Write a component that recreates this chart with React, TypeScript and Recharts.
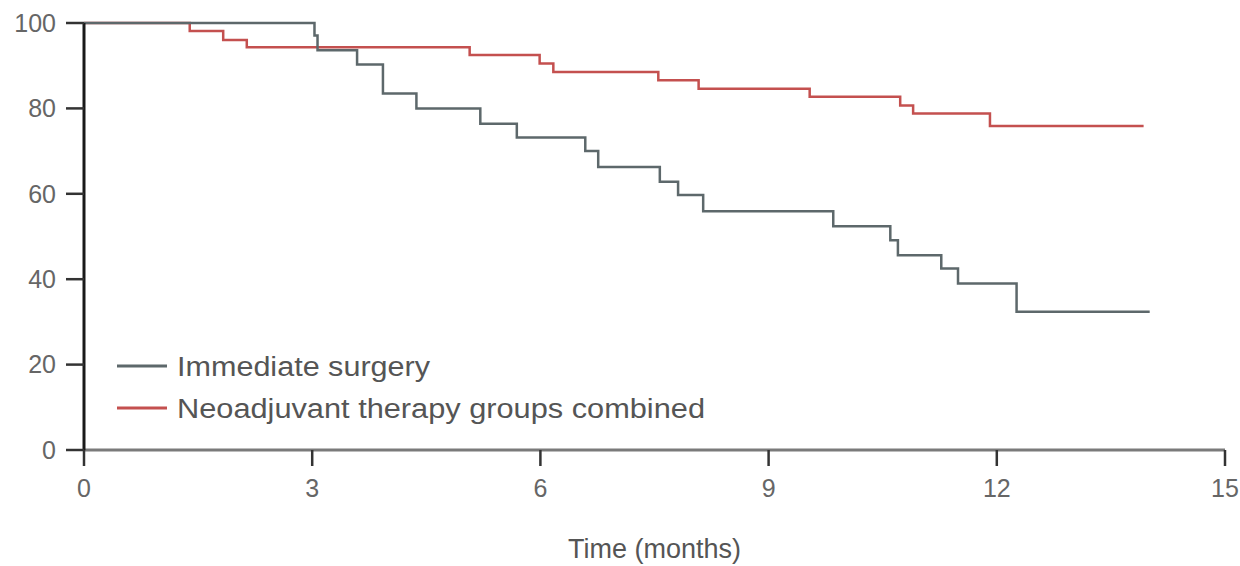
import React from 'react';
import { LineChart, Line, XAxis, YAxis, Legend } from 'recharts';

// Kaplan-Meier step data
const immediateTimes = [0, 3.03, 3.07, 3.59, 3.93, 4.37, 5.21, 5.69, 6.59, 6.76, 7.57, 7.81, 8.14, 9.85, 10.6, 10.7, 11.27, 11.49, 12.26, 14.01];
const immediateSurvival = [100, 97.1, 93.6, 90.3, 83.5, 80.0, 76.4, 73.2, 70.0, 66.3, 62.8, 59.7, 55.9, 52.4, 49.1, 45.6, 42.5, 39.0, 32.4, 32.4];

const neoTimes = [0, 1.39, 1.83, 2.14, 5.07, 5.99, 6.17, 7.55, 8.08, 9.54, 10.73, 10.9, 11.91, 13.93];
const neoSurvival = [100, 98.1, 96.0, 94.3, 92.5, 90.5, 88.5, 86.6, 84.6, 82.7, 80.7, 78.8, 75.9, 75.9];

const xTicks = [0, 3, 6, 9, 12, 15];
const yTicks = [0, 20, 40, 60, 80, 100];
const seriesNames = ['Immediate surgery', 'Neoadjuvant therapy groups combined'];
const xLabel = 'Time (months)';

const immediateData = immediateTimes.map((t, i) => ({ t, s: immediateSurvival[i] }));
const neoData = neoTimes.map((t, i) => ({ t, s: neoSurvival[i] }));

const GRAY = '#5d686b';
const RED = '#c4504f';
const FONT = '"Liberation Sans", Arial, sans-serif';

function LegendContent() {
  return (
    <svg width={640} height={90} style={{ display: 'block' }}>
      <line x1={7} x2={57} y1={21} y2={21} stroke={GRAY} strokeWidth={3} />
      <text x={67} y={22} dominantBaseline="central" textLength={253} lengthAdjust="spacingAndGlyphs"
        fontFamily={FONT} fontSize={27} fill="#555">{seriesNames[0]}</text>
      <line x1={7} x2={57} y1={63} y2={63} stroke={RED} strokeWidth={3} />
      <text x={67} y={64} dominantBaseline="central" textLength={528} lengthAdjust="spacingAndGlyphs"
        fontFamily={FONT} fontSize={27} fill="#555">{seriesNames[1]}</text>
    </svg>
  );
}

export default function App() {
  return (
    <div style={{ position: 'absolute', left: 0, top: 0, background: '#fff' }}>
      <LineChart width={1240} height={566} margin={{ top: 23, right: 15, bottom: 0, left: 0 }}>
        <XAxis
          type="number"
          dataKey="t"
          domain={[0, 15]}
          ticks={xTicks}
          allowDataOverflow
          height={116}
          tickSize={16}
          tickMargin={13}
          axisLine={{ stroke: '#7a7a7a', strokeWidth: 3 }}
          tickLine={{ stroke: '#333', strokeWidth: 2.5 }}
          tick={{ fill: '#666', fontSize: 25, fontFamily: FONT }}
          label={{ value: xLabel, position: 'insideBottom', offset: 8, fill: '#555', fontSize: 27, fontFamily: FONT }}
        />
        <YAxis
          type="number"
          domain={[0, 100]}
          ticks={yTicks}
          width={84}
          tickSize={18}
          tickMargin={10}
          axisLine={{ stroke: '#1a1a1a', strokeWidth: 3 }}
          tickLine={{ stroke: '#333', strokeWidth: 2.5 }}
          tick={{ fill: '#666', fontSize: 25, fontFamily: FONT }}
        />
        <Legend
          layout="vertical"
          verticalAlign="middle"
          align="center"
          content={() => <LegendContent />}
          wrapperStyle={{ position: 'absolute', left: 110, top: 345, width: 640, height: 90 }}
        />
        <Line
          data={neoData}
          dataKey="s"
          name={seriesNames[1]}
          type="stepAfter"
          stroke={RED}
          strokeWidth={2.5}
          dot={false}
          isAnimationActive={false}
        />
        <Line
          data={immediateData}
          dataKey="s"
          name={seriesNames[0]}
          type="stepAfter"
          stroke={GRAY}
          strokeWidth={2.5}
          dot={false}
          isAnimationActive={false}
        />
      </LineChart>
    </div>
  );
}
